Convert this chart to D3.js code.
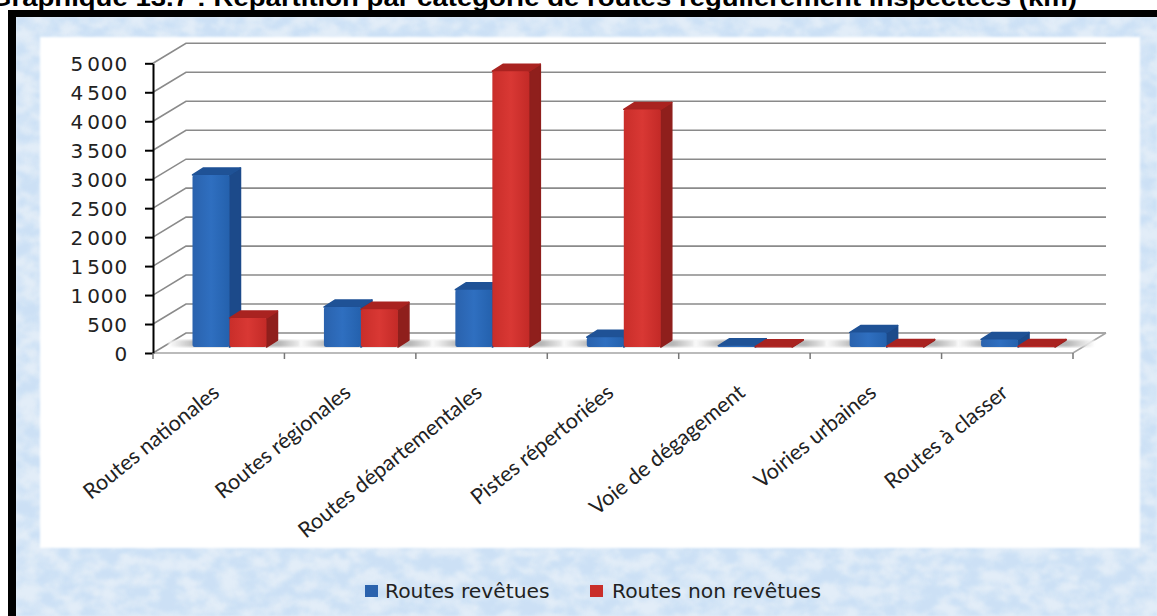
<!DOCTYPE html>
<html><head><meta charset="utf-8">
<script src="https://cdnjs.cloudflare.com/ajax/libs/d3/7.8.5/d3.min.js"></script>
<style>html,body{margin:0;padding:0;background:#fff;overflow:hidden}svg{display:block}</style>
</head><body><svg id="c" width="1157" height="616"></svg>
<script>
const categories=["Routes nationales","Routes régionales","Routes départementales","Pistes répertoriées","Voie de dégagement","Voiries urbaines","Routes à classer"];
const seriesNames=["Routes revêtues","Routes non revêtues"];
const revetues=[2970,690,990,170,20,250,130];
const nonRevetues=[500,650,4760,4100,5,10,10];
const yTicks=[0,500,1000,1500,2000,2500,3000,3500,4000,4500,5000];
const title="Graphique 13.7 : Répartition par catégorie de routes régulièrement inspectées (km)";

const svg=d3.select("#c");
const defs=svg.append("defs");
const W=1157,H=616;
const y=d3.scaleLinear().domain([0,5000]).range([353,63.3]);
const x=d3.scaleBand().domain(categories).range([153,1073]);
const dX=33,dY=-20;         // wall depth
const barW=37,sX=11,sY=-7;  // bar size and bar depth
const baseLift=6;

function grad(id,stops,horizontal){
  const g=defs.append("linearGradient").attr("id",id).attr("x1",0).attr("y1",0).attr("x2",horizontal?1:0).attr("y2",horizontal?0:1);
  stops.forEach(s=>g.append("stop").attr("offset",s[0]).attr("stop-color",s[1]));
}
grad("bf",[[0,"#2a62ad"],[.5,"#2f6fc0"],[1,"#2461ad"]],true);
grad("rf",[[0,"#c92e2a"],[.5,"#d93834"],[1,"#c32a27"]],true);
grad("sh",[[0,"#fff"],[.2,"#aaa"],[.8,"#aaa"],[1,"#fff"]],true);
const tex=defs.append("filter").attr("id","tex").attr("x",0).attr("y",0).attr("width","100%").attr("height","100%").attr("color-interpolation-filters","sRGB");
tex.append("feTurbulence").attr("type","fractalNoise").attr("baseFrequency","0.05 0.07").attr("numOctaves",4).attr("seed",7);
tex.append("feColorMatrix").attr("type","matrix").attr("values","0 0 0 0 0.80  0 0 0 0 0.88  0 0 0 0 0.96  3 0 0 0 -0.95");
tex.append("feGaussianBlur").attr("stdDeviation",1.2);
defs.append("filter").attr("id","soft").append("feGaussianBlur").attr("stdDeviation",1.2);

// frame and mottled panel
svg.append("rect").attr("x",8).attr("y",10).attr("width",W-8).attr("height",H-10).attr("fill","#000");
svg.append("rect").attr("x",16).attr("y",17).attr("width",W-16).attr("height",H-17).attr("fill","#e2edf8");
svg.append("rect").attr("x",16).attr("y",17).attr("width",W-16).attr("height",H-17).attr("filter","url(#tex)");
svg.append("rect").attr("x",40).attr("y",37).attr("width",1100).attr("height",511).attr("fill","#fff").attr("filter","url(#soft)");

// title
svg.append("text").attr("x",-10).attr("y",6)
  .attr("font-family","Liberation Sans").attr("font-weight","bold").attr("font-size",23).attr("fill","#000")
  .attr("textLength",1087).attr("lengthAdjust","spacingAndGlyphs").text(title);

// walls, gridlines
const grid=svg.append("g").attr("fill","none").attr("stroke","#8a8a8a").attr("stroke-width",1.6);
grid.selectAll("path").data(yTicks).join("path")
  .attr("d",d=>`M${x.range()[0]},${y(d)}L${x.range()[0]+dX},${y(d)+dY}L${x.range()[1]+dX},${y(d)+dY}`);
grid.append("path").attr("d",`M${x.range()[0]},${y(0)}L${x.range()[1]},${y(0)}L${x.range()[1]+dX},${y(0)+dY}`).attr("stroke","#a5a5a5");

// y axis
const yAxis=svg.append("g").attr("transform",`translate(${x.range()[0]},0)`)
  .call(d3.axisLeft(y).tickValues(yTicks).tickSize(8).tickSizeOuter(0).tickFormat(d=>d>=1000?d3.format(",")(d).replace(",","\u200a"):d));
yAxis.select(".domain").attr("stroke","#000").attr("stroke-width",2);
yAxis.selectAll(".tick line").attr("stroke","#000").attr("stroke-width",2);
yAxis.selectAll("text").attr("font-family","DejaVu Sans").attr("font-size",20).attr("letter-spacing",0.9).attr("fill","#222").attr("dy","0.36em").attr("x",-25);

// x ticks and labels
const edges=categories.map(c=>x(c)).concat(x.range()[1]);
svg.append("g").selectAll("line").data(edges).join("line")
  .attr("x1",d=>d).attr("x2",d=>d).attr("y1",y(0)).attr("y2",y(0)+6).attr("stroke","#777").attr("stroke-width",1.5);
svg.append("g").selectAll("text").data(categories).join("text")
  .attr("transform",c=>`translate(${x(c)+x.bandwidth()/2+2},${y(0)+42}) rotate(-39)`)
  .attr("text-anchor","end").attr("font-family","Lato").attr("font-size",21.5).attr("fill","#222").text(d=>d);

// bars
const rows=categories.map((c,i)=>({c,vals:[revetues[i],nonRevetues[i]]}));
const colors=[{f:"url(#bf)",t:"#1f5296",s:"#1c4a8a"},{f:"url(#rf)",t:"#a92320",s:"#8f1f1c"}];
const base=y(0)-baseLift;
const lift=d=>y(0)-y(d);
const groupOff=39.5;
const g=svg.append("g");
rows.forEach(r=>{
  const x0=x(r.c)+groupOff;
  g.append("rect").attr("x",x0-24).attr("y",base-7).attr("width",barW*2+64).attr("height",7).attr("fill","url(#sh)").attr("opacity",.85).attr("filter","url(#soft)");
  r.vals.forEach((v,k)=>{
    const L=x0+k*barW,R=L+barW,T=base-lift(v);
    const b=g.append("g").attr("stroke-linejoin","round");
    b.append("path").attr("d",`M${R},${T}L${R+sX},${T+sY}L${R+sX},${base+sY}L${R},${base}Z`).attr("fill",colors[k].s).attr("stroke",colors[k].s).attr("stroke-width",1.5);
    b.append("path").attr("d",`M${L},${T}L${L+sX},${T+sY}L${R+sX},${T+sY}L${R},${T}Z`).attr("fill",colors[k].t).attr("stroke",colors[k].t).attr("stroke-width",1.5);
    b.append("rect").attr("x",L).attr("y",T).attr("width",barW).attr("height",base-T).attr("rx",2).attr("fill",colors[k].f);
  });
});

// legend
const lg=svg.append("g");
const lx=[365,590];
const tx=[385,612];
seriesNames.forEach((n,k)=>{
  lg.append("rect").attr("x",lx[k]).attr("y",585).attr("width",13).attr("height",12).attr("fill",k?"#c92e2a":"#2a62ad");
  lg.append("text").attr("x",tx[k]).attr("y",598).attr("font-family","DejaVu Sans").attr("font-size",20.3).attr("fill","#222").text(n);
});
</script></body></html>
